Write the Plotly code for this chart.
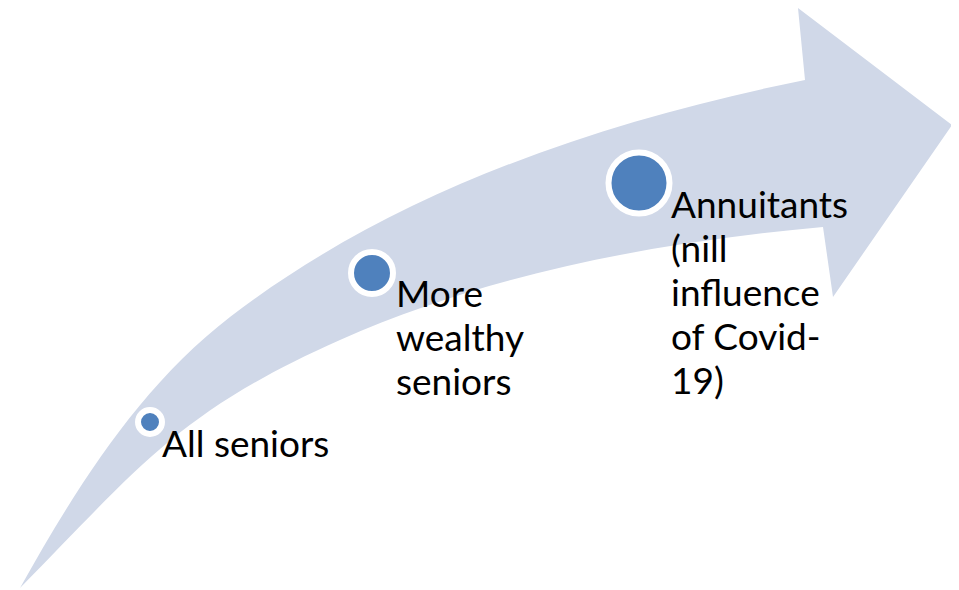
import plotly.graph_objects as go

# ---- data ----
labels = ["All seniors", "More<br>wealthy<br>seniors",
          "Annuitants<br>(nill<br>influence<br>of Covid-<br>19)"]
node_x = [150, 372, 639]
node_y = [422, 273, 183]
node_size = [24, 42, 61]          # marker diameters (px)
label_x = [161, 395, 670]
label_baseline = [457, 307, 218]

# arrow outline (diagram coordinates, y downward)
upper_edge = [(20, 588), (76, 488), (139, 387), (230, 317),
              (394, 191), (602, 121), (805, 80)]
head = [(798, 8), (952, 125), (833, 297), (823, 227)]
lower_edge = [(658, 242), (491, 273), (340, 340),
              (180, 411), (140, 466), (20, 588)]

W, H = 959, 590
PAGE_MARGIN = 8                   # default body margin of the html page
BAND = "#D0D8E8"
NODE = "#4F81BD"
FONT = "Lato"
FSIZE = 37
LINE_H = 44


def p(pt):
    return f"{pt[0]},{pt[1]}"


path = (f"M {p(upper_edge[0])} "
        f"C {p(upper_edge[1])} {p(upper_edge[2])} {p(upper_edge[3])} "
        f"C {p(upper_edge[4])} {p(upper_edge[5])} {p(upper_edge[6])} "
        + " ".join(f"L {p(q)}" for q in head) + " "
        f"C {p(lower_edge[0])} {p(lower_edge[1])} {p(lower_edge[2])} "
        f"C {p(lower_edge[3])} {p(lower_edge[4])} {p(lower_edge[5])} Z")

fig = go.Figure()

fig.add_trace(go.Scatter(
    x=node_x, y=node_y, mode="markers",
    marker=dict(size=node_size, color=NODE, opacity=1,
                line=dict(color="white", width=6)),
    hoverinfo="skip", showlegend=False, cliponaxis=False))

fig.add_shape(type="path", path=path, xref="x", yref="y",
              fillcolor=BAND, line=dict(width=0), layer="below")

annotations = []
for lab, lx, lb in zip(labels, label_x, label_baseline):
    for i, line in enumerate(lab.split("<br>")):
        annotations.append(dict(
            x=lx, y=lb + i * LINE_H - 0.387 * FSIZE, xref="x", yref="y",
            text=line, showarrow=False, xanchor="left", yanchor="middle",
            borderpad=0, font=dict(family=FONT, size=FSIZE, color="black")))

fig.update_layout(
    width=W - PAGE_MARGIN, height=H - PAGE_MARGIN,
    margin=dict(l=0, r=0, t=0, b=0, pad=0),
    paper_bgcolor="white", plot_bgcolor="white",
    xaxis=dict(range=[PAGE_MARGIN, W], visible=False, fixedrange=True),
    yaxis=dict(range=[H, PAGE_MARGIN], visible=False, fixedrange=True),
    annotations=annotations, showlegend=False)

fig.write_html("out.html", config={"displayModeBar": False})
